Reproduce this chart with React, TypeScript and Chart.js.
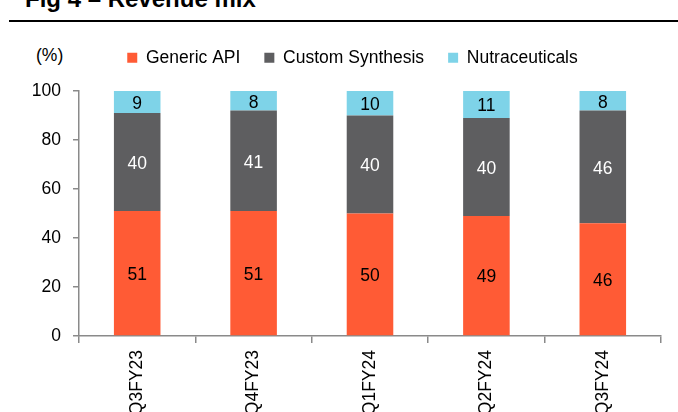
import React, { useEffect, useRef } from "react";
import { Chart, registerables } from "chart.js";

Chart.register(...registerables);

const FONT = "'Liberation Sans', Arial, sans-serif";

const categories = ["Q3FY23", "Q4FY23", "Q1FY24", "Q2FY24", "Q3FY24"];
const genericApi = [51, 51, 50, 49, 46];
const customSynthesis = [40, 41, 40, 40, 46];
const nutraceuticals = [9, 8, 10, 11, 8];
const seriesNames = ["Generic API", "Custom Synthesis", "Nutraceuticals"];
const seriesColors = ["#FF5B35", "#5E5E60", "#7ED3E8"];
const labelColors = ["#000000", "#FFFFFF", "#000000"];
const yMin = 0;
const yMax = 100;
const yStep = 20;

const AXIS = "#8a8a8a";

const valueLabels = {
  id: "valueLabels",
  afterDatasetsDraw(chart: any) {
    const ctx = chart.ctx;
    ctx.save();
    ctx.font = `17.5px ${FONT}`;
    ctx.textAlign = "center";
    ctx.textBaseline = "middle";
    chart.data.datasets.forEach((ds: any, i: number) => {
      const meta = chart.getDatasetMeta(i);
      meta.data.forEach((bar: any, j: number) => {
        const { x, y, base } = bar.getProps(["x", "y", "base"], true);
        ctx.fillStyle = labelColors[i];
        ctx.fillText(String(ds.data[j]), x, (y + base) / 2 + 2);
      });
    });
    ctx.restore();
  },
};

// shift the legend row horizontally to sit where the reference has it
const legendShift = {
  id: "legendShift",
  afterLayout(chart: any) {
    const lg = chart.legend;
    if (lg) {
      lg.left += 7;
      lg.right += 7;
    }
  },
};

export default function App() {
  const ref = useRef<HTMLCanvasElement | null>(null);

  useEffect(() => {
    if (!ref.current) return;
    const font = { family: FONT, size: 17.5 };
    const chart = new Chart(ref.current, {
      type: "bar",
      data: {
        labels: categories,
        datasets: [genericApi, customSynthesis, nutraceuticals].map((d, i) => ({
          label: seriesNames[i],
          data: d,
          backgroundColor: seriesColors[i],
          borderWidth: 0,
          categoryPercentage: 1,
          barPercentage: 0.4,
        })),
      },
      options: {
        animation: false,
        responsive: false,
        events: [],
        layout: { padding: { left: 30, right: 17, top: 25, bottom: 0 } },
        plugins: {
          legend: {
            position: "top",
            labels: {
              boxWidth: 10,
              boxHeight: 10,
              padding: 24,
              color: "#000",
              font,
            },
          },
          subtitle: {
            display: true,
            text: "",
            position: "top",
            weight: 500,
            padding: 0,
            font: { size: 14.5, lineHeight: 1 },
          },
          tooltip: { enabled: false },
        },
        scales: {
          x: {
            stacked: true,
            grid: {
              drawOnChartArea: false,
              drawTicks: true,
              tickLength: 7,
              color: AXIS,
              lineWidth: 1.5,
              offset: true,
            },
            border: { color: AXIS, width: 1.5 },
            ticks: {
              minRotation: 90,
              maxRotation: 90,
              padding: 7,
              color: "#000",
              font,
            },
            afterFit: (s: any) => {
              s.height = 76;
            },
          },
          y: {
            stacked: true,
            min: yMin,
            max: yMax,
            ticks: { stepSize: yStep, padding: 12, color: "#000", font },
            grid: {
              drawOnChartArea: false,
              tickLength: 6,
              color: AXIS,
              lineWidth: 1.5,
            },
            border: { color: AXIS, width: 1.5 },
            afterFit: (s: any) => {
              s.width = 49;
            },
          },
        },
      },
      plugins: [valueLabels, legendShift],
    });
    return () => chart.destroy();
  }, []);

  return (
    <div
      style={{
        position: "absolute",
        left: 0,
        top: 0,
        width: 678,
        height: 412,
        overflow: "hidden",
        background: "#fff",
        fontFamily: FONT,
      }}
    >
      <div
        style={{
          position: "absolute",
          left: 25,
          top: -13,
          fontSize: 24,
          lineHeight: "24px",
          fontWeight: "bold",
          color: "#000",
          whiteSpace: "nowrap",
        }}
      >
        Fig 4 – Revenue mix
      </div>
      <div
        style={{
          position: "absolute",
          left: 9,
          top: 20,
          width: 669,
          height: 1.5,
          background: "#000",
        }}
      />
      <div
        style={{
          position: "absolute",
          left: 36,
          top: 45,
          fontSize: 17.5,
          lineHeight: "20px",
          color: "#000",
        }}
      >
        (%)
      </div>
      <canvas
        ref={ref}
        width={678}
        height={412}
        style={{ position: "absolute", left: 0, top: 0, width: 678, height: 412 }}
      />
    </div>
  );
}
